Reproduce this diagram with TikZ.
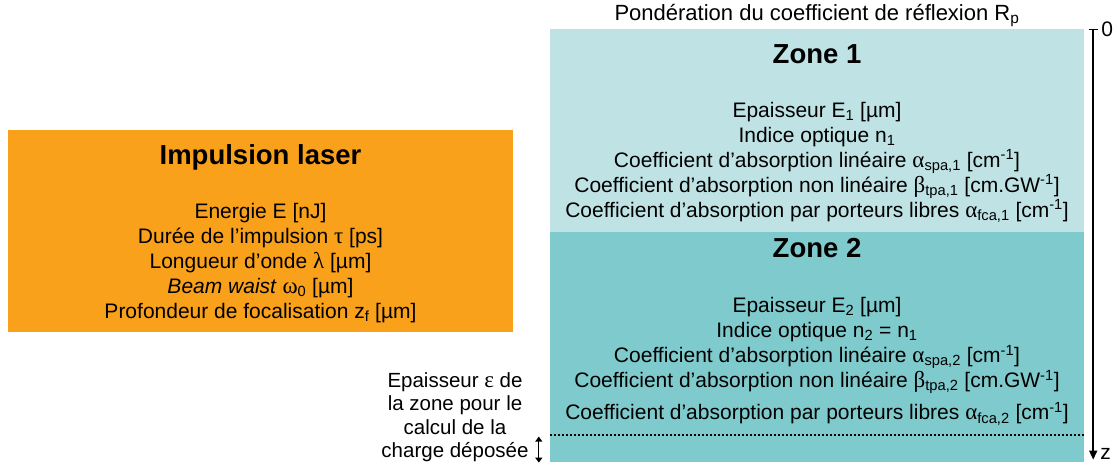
\documentclass[tikz,border=0pt]{standalone}
\usepackage{fontspec}
\setmainfont{Liberation Sans}
\newfontfamily\greekfont{Liberation Serif}
\newcommand{\gk}[1]{{\greekfont\fontsize{23}{25}\selectfont #1}}
\usetikzlibrary{arrows.meta, positioning, calc}
\definecolor{laserOrange}{HTML}{F9A11B}
\definecolor{zoneLight}{HTML}{BFE3E5}
\definecolor{zoneDark}{HTML}{7FCACC}
\tikzset{
  boxOrange/.style={rectangle, fill=laserOrange, inner sep=0pt,
                    minimum width=505pt, minimum height=202pt},
  boxZoneA/.style={rectangle, fill=zoneLight, inner sep=0pt,
                   minimum width=534pt, minimum height=203pt},
  boxZoneB/.style={rectangle, fill=zoneDark, inner sep=0pt,
                   minimum width=534pt, minimum height=230pt},
  txtBody/.style={align=center, inner sep=0pt,
                  font=\fontsize{21}{25}\selectfont},
  txtTitle/.style={align=center, inner sep=0pt,
                   font=\fontsize{27.5}{30}\selectfont\bfseries},
}

\begin{document}
\begin{tikzpicture}[x=1pt, y=-1pt]
    \useasboundingbox (0,0) rectangle (1118,468);

    % Impulsion laser
    \node[boxOrange] (laser) at (260.5,231) {};
    \node[txtTitle] (laserTitle) at ([yshift=74pt]laser.center) {Impulsion laser};
    \node[txtBody] (laserText) at ([yshift=-32pt]laser.center)
         {Energie E [nJ]\\
          Durée de l’impulsion \gk{τ} [ps]\\
          Longueur d’onde \gk{λ} [µm]\\
          \textit{Beam waist} \gk{ω}\textsubscript{0} [µm]\\
          Profondeur de focalisation z\textsubscript{f} [µm]};

    % Zones
    \node[boxZoneA] (zone1) at (817,130.5) {};
    \node[boxZoneB, below=0pt of zone1] (zone2) {};
    \node[txtBody, font=\fontsize{22}{25}\selectfont, above=2pt of zone1] (rp)
         {Pondération du coefficient de réflexion R\textsubscript{p}};

    \node[txtTitle] (zone1Title) at ([yshift=76pt]zone1.center) {Zone 1};
    \node[txtBody] (zone1Text) at ([yshift=-32pt]zone1.center)
         {Epaisseur E\textsubscript{1} [µm]\\
          Indice optique n\textsubscript{1}\\
          Coefficient d’absorption linéaire \gk{α}\textsubscript{spa,1} [cm\textsuperscript{-1}]\\
          Coefficient d’absorption non linéaire \gk{β}\textsubscript{tpa,1} [cm.GW\textsuperscript{-1}]\\
          Coefficient d’absorption par porteurs libres \gk{α}\textsubscript{fca,1} [cm\textsuperscript{-1}]};

    \node[txtTitle] (zone2Title) at ([yshift=99pt]zone2.center) {Zone 2};
    \node[txtBody] (zone2Text) at ([yshift=-14pt]zone2.center)
         {Epaisseur E\textsubscript{2} [µm]\\
          Indice optique n\textsubscript{2} = n\textsubscript{1}\\
          Coefficient d’absorption linéaire \gk{α}\textsubscript{spa,2} [cm\textsuperscript{-1}]\\
          Coefficient d’absorption non linéaire \gk{β}\textsubscript{tpa,2} [cm.GW\textsuperscript{-1}]\\[7pt]
          Coefficient d’absorption par porteurs libres \gk{α}\textsubscript{fca,2} [cm\textsuperscript{-1}]};

    % epaisseur epsilon
    \coordinate (epsL) at ([yshift=28pt]zone2.south west);
    \coordinate (epsR) at ([yshift=28pt]zone2.south east);
    \draw[line width=2pt, dash pattern=on 2pt off 2pt] (epsL) -- (epsR);
    \coordinate (epsTop) at ([xshift=-11pt, yshift=-2pt]epsL);
    \coordinate (epsBot) at ([xshift=-11pt]zone2.south west);
    \draw[{Triangle[length=5pt, width=7pt]}-{Triangle[length=5pt, width=7pt]}, line width=1.3pt]
         (epsTop) -- (epsBot);
    \node[txtBody, font=\fontsize{20.5}{23.5}\selectfont] (epsText) at (455,417)
         {Epaisseur \gk{ε} de\\la zone pour le\\calcul de la\\charge déposée};

    % axe z
    \coordinate (axisTop) at ([xshift=9pt]zone1.north east);
    \coordinate (axisBot) at ([xshift=9pt, yshift=3pt]zone2.south east);
    \draw[line width=1.5pt, {Bar[width=9pt]}-{Triangle[length=9pt, width=8pt]}] (axisTop) -- (axisBot);
    \node[txtBody, right=8pt of axisTop] (zero) {0};
    \node[txtBody, right=7pt of axisBot, anchor=south west] (zed) {z};
\end{tikzpicture}
\end{document}
